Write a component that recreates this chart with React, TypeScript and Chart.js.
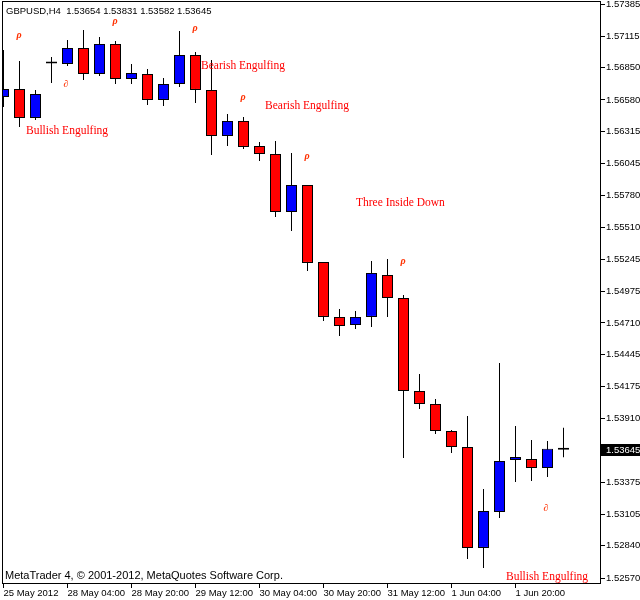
import React, { useEffect, useRef } from "react";
import { Chart, registerables } from "chart.js";

Chart.register(...registerables);

// ---- data (GBPUSD, H4) ----
const opens = [1.56605, 1.56672, 1.56429, 1.5689, 1.56882, 1.57016, 1.56798, 1.5705, 1.56756, 1.56798, 1.5658, 1.56714, 1.56957, 1.56664, 1.56278, 1.56404, 1.56194, 1.56127, 1.5564, 1.55867, 1.55221, 1.5476, 1.54692, 1.5476, 1.55112, 1.54919, 1.54139, 1.5403, 1.53803, 1.53669, 1.52822, 1.53124, 1.5356, 1.53568, 1.53493, 1.53654];
const highs = [1.56999, 1.56907, 1.56664, 1.56941, 1.57083, 1.57167, 1.57108, 1.57075, 1.56882, 1.5684, 1.56765, 1.57159, 1.56983, 1.56916, 1.56463, 1.56437, 1.56228, 1.56236, 1.56135, 1.55867, 1.55221, 1.54827, 1.5481, 1.55229, 1.55246, 1.54944, 1.54281, 1.54072, 1.53812, 1.53929, 1.53317, 1.54374, 1.53845, 1.53728, 1.53719, 1.53831];
const lows = [1.56521, 1.56353, 1.56412, 1.56723, 1.56865, 1.56748, 1.56781, 1.56714, 1.56714, 1.56538, 1.5653, 1.56689, 1.56555, 1.56119, 1.56194, 1.56169, 1.56068, 1.55598, 1.55481, 1.55145, 1.54726, 1.546, 1.54659, 1.54676, 1.5476, 1.53577, 1.53988, 1.53778, 1.53619, 1.52729, 1.52654, 1.53073, 1.53375, 1.53384, 1.53417, 1.53582];
const closes = [1.56672, 1.56429, 1.5663, 1.56885, 1.57016, 1.56798, 1.5705, 1.56756, 1.56806, 1.5658, 1.56714, 1.56957, 1.56664, 1.56278, 1.56404, 1.56186, 1.56127, 1.5564, 1.55867, 1.55213, 1.5476, 1.54684, 1.5476, 1.55129, 1.54919, 1.54139, 1.5403, 1.53803, 1.53669, 1.52822, 1.53132, 1.53552, 1.53585, 1.53493, 1.53654, 1.53645];

const xTickIndex = [0, 4, 8, 12, 16, 20, 24, 28, 32];
const xTickLabels = ["25 May 2012", "28 May 04:00", "28 May 20:00", "29 May 12:00", "30 May 04:00", "30 May 20:00", "31 May 12:00", "1 Jun 04:00", "1 Jun 20:00"];
const yTickValues = [1.57385, 1.57115, 1.5685, 1.5658, 1.56315, 1.56045, 1.5578, 1.5551, 1.55245, 1.54975, 1.5471, 1.54445, 1.54175, 1.5391, 1.53645, 1.53375, 1.53105, 1.5284, 1.5257];

const patternLabels = ["Bullish Engulfing", "Bearish Engulfing", "Bearish Engulfing", "Three Inside Down", "Bullish Engulfing"];
const patternX = [1.406, 12.344, 16.344, 22.031, 31.406];
const patternY = [1.5632, 1.56869, 1.5653, 1.55716, 1.52578];

const upMarkIdx = [1, 7, 12, 15, 19, 25];
const upMarkY = [1.57125, 1.57243, 1.57176, 1.56605, 1.5611, 1.55229];
const downMarkIdx = [4, 34];
const downMarkY = [1.56714, 1.53157];

const symbolTitle = "GBPUSD,H4";
const copyright = "MetaTrader 4, \u00A9 2001-2012, MetaQuotes Software Corp.";

const AXIS_FONT = '"Liberation Sans", Arial, sans-serif';
const SERIF_FONT = '"Liberation Serif", "Times New Roman", serif';

const overlayPlugin = {
  id: "mtOverlay",
  afterDraw(chart: any) {
    const { ctx, chartArea: a, scales } = chart;
    const xs = scales.x;
    const ys = scales.y;
    ctx.save();
    // frame
    ctx.strokeStyle = "#000";
    ctx.lineWidth = 1;
    ctx.strokeRect(a.left + 0.5, a.top + 0.5, a.right - a.left - 1, a.bottom - a.top - 1);

    // header + copyright
    const n = closes.length - 1;
    const head = `${symbolTitle}  ${opens[n].toFixed(5)} ${highs[n].toFixed(5)} ${lows[n].toFixed(5)} ${closes[n].toFixed(5)}`;
    ctx.fillStyle = "#000";
    ctx.font = `9.5px ${AXIS_FONT}`;
    ctx.textAlign = "left";
    ctx.textBaseline = "middle";
    ctx.fillText(head, 6, 11);
    ctx.font = `11px ${AXIS_FONT}`;
    ctx.fillText(copyright, 5, 576);

    // pattern names
    ctx.fillStyle = "#ff0000";
    ctx.font = `11.5px ${SERIF_FONT}`;
    patternLabels.forEach((t, i) => {
      ctx.fillText(t, xs.getPixelForValue(patternX[i]), ys.getPixelForValue(patternY[i]));
    });

    // arrow markers
    ctx.font = `italic bold 10px ${SERIF_FONT}`;
    ctx.textAlign = "center";
    ctx.fillStyle = "#ff3000";
    upMarkIdx.forEach((idx, i) => {
      ctx.fillText("\u03C1", xs.getPixelForValue(idx) - 0.5, ys.getPixelForValue(upMarkY[i]));
    });
    downMarkIdx.forEach((idx, i) => {
      ctx.fillText("\u2202", xs.getPixelForValue(idx) - 1.5, ys.getPixelForValue(downMarkY[i]));
    });

    // current price box
    const last = closes[n];
    const py = Math.round(ys.getPixelForValue(last));
    ctx.fillStyle = "#000";
    ctx.fillRect(a.right, py - 6, chart.width - a.right, 12);
    ctx.fillStyle = "#fff";
    ctx.font = `9.5px ${AXIS_FONT}`;
    ctx.textAlign = "left";
    ctx.fillText(last.toFixed(5), a.right + 5, py + 0.5);
    ctx.restore();
  },
};

export default function App() {
  const ref = useRef<HTMLCanvasElement | null>(null);

  useEffect(() => {
    document.body.style.margin = "0";
    const canvas = ref.current;
    if (!canvas) return;
    const idx = closes.map((_, i) => i);
    const bodies = idx.map((i) => ({ x: i, y: [opens[i], closes[i]] }));
    const wicks = idx.map((i) => ({ x: i, y: [lows[i], highs[i]] }));
    const bodyColors = idx.map((i) => (closes[i] > opens[i] ? "#0000ff" : "#ff0000"));

    const yMin = 1.5251967;
    const yMax = 1.5741017;

    const chart = new Chart(canvas, {
      type: "bar",
      data: {
        datasets: [
          {
            label: "body",
            data: bodies as any,
            backgroundColor: bodyColors,
            borderColor: "#000",
            borderWidth: 1,
            borderSkipped: false,
            barThickness: 11,
            minBarLength: 2,
            grouped: false,
            inflateAmount: 0,
            order: 1,
          } as any,
          {
            label: "wick",
            data: wicks as any,
            backgroundColor: "#000",
            borderWidth: 0,
            barThickness: 1,
            grouped: false,
            inflateAmount: 0,
            order: 2,
          } as any,
        ],
      },
      options: {
        responsive: false,
        animation: false,
        events: [],
        layout: { padding: { left: 2, top: 1, right: 0, bottom: 0 } },
        plugins: { legend: { display: false }, tooltip: { enabled: false }, title: { display: false } },
        scales: {
          x: {
            type: "linear",
            offset: false,
            min: -0.09375,
            max: 37.34375,
            afterBuildTicks: (s: any) => {
              s.ticks = xTickIndex.map((v) => ({ value: v }));
            },
            afterFit: (s: any) => {
              s.height = 16;
              s.paddingLeft = 0;
              s.paddingRight = 0;
              s.paddingTop = 0;
              s.paddingBottom = 0;
            },
            grid: { offset: false, drawOnChartArea: false, drawTicks: true, tickLength: 4, color: "#000" },
            border: { display: false },
            ticks: {
              autoSkip: false,
              maxRotation: 0,
              minRotation: 0,
              align: "start",
              padding: 0,
              color: "#000",
              font: { family: AXIS_FONT, size: 9.5 },
              callback: (v: any) => {
                const k = xTickIndex.indexOf(Number(v));
                return k >= 0 ? xTickLabels[k] : "";
              },
            },
          } as any,
          y: {
            type: "linear",
            position: "right",
            min: yMin,
            max: yMax,
            afterBuildTicks: (s: any) => {
              s.ticks = yTickValues.map((v) => ({ value: v }));
            },
            afterFit: (s: any) => {
              s.width = 39;
              s.paddingLeft = 0;
              s.paddingRight = 0;
              s.paddingTop = 0;
              s.paddingBottom = 0;
            },
            grid: { drawOnChartArea: false, drawTicks: true, tickLength: 4, color: "#000" },
            border: { display: false },
            ticks: {
              autoSkip: false,
              padding: 1,
              color: "#000",
              font: { family: AXIS_FONT, size: 9.5 },
              callback: (v: any) => Number(v).toFixed(5),
            },
          } as any,
        },
      },
      plugins: [overlayPlugin],
    });
    return () => chart.destroy();
  }, []);

  return (
    <div style={{ position: "absolute", left: 0, top: 0, width: 640, height: 600, background: "#fff" }}>
      <canvas ref={ref} width={640} height={600} style={{ width: 640, height: 600, display: "block" }} />
    </div>
  );
}
